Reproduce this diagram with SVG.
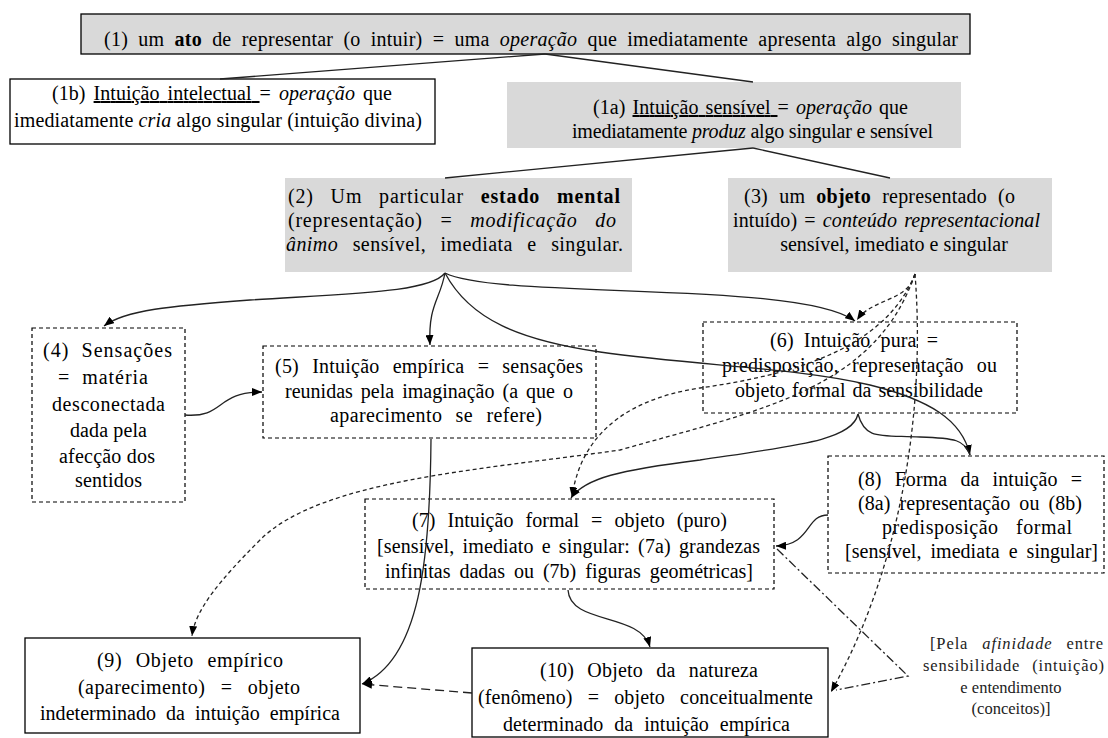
<svg xmlns="http://www.w3.org/2000/svg" width="1108" height="738" viewBox="0 0 1108 738">
<style>
.g{fill:#d9d9d9}
.bx{fill:#fff;stroke:#000;stroke-width:1.3}
.g1{fill:#d9d9d9;stroke:#000;stroke-width:1.3}
.dbx{fill:#fff;stroke:#000;stroke-width:1.2;stroke-dasharray:4 3}
.t{font-family:"Liberation Serif","Times New Roman",serif;font-size:20px;fill:#000}
.s{font-size:16.5px;fill:#222}
.i{font-style:italic}
.b{font-weight:bold}
.u{text-decoration:underline}
.c{fill:none;stroke:#222;stroke-width:1.3}
.cd{stroke-dasharray:4 3}
.cdd{stroke-dasharray:9 3 2 3}
.cl{stroke-dasharray:9 5}
</style>
<defs>
<marker id="ah" viewBox="0 0 10 8" refX="10" refY="4" markerWidth="10" markerHeight="8" markerUnits="userSpaceOnUse" orient="auto"><path d="M0,0 L10,4 L0,8 z" fill="#000"/></marker>
</defs>
<rect width="1108" height="738" fill="#fff"/>

<g id="n1">
<rect class="g1" x="81" y="14" width="889" height="40"/>
<text class="t" x="104" y="46" word-spacing="5" textLength="854" lengthAdjust="spacing">(1) um <tspan class="b">ato</tspan> de representar (o intuir) = uma <tspan class="i">operação</tspan> que imediatamente apresenta algo singular</text>
</g>
<g id="n1b">
<rect class="bx" x="10" y="79" width="425" height="65"/>
<text class="t" x="52" y="100" word-spacing="3" textLength="340" lengthAdjust="spacing">(1b) <tspan class="u">Intuição intelectual </tspan>= <tspan class="i">operação</tspan> que</text>
<text class="t" x="14" y="127" textLength="408" lengthAdjust="spacing">imediatamente <tspan class="i">cria</tspan> algo singular (intuição divina)</text>
</g>
<g id="n1a">
<rect class="g" x="507" y="82" width="454" height="66"/>
<text class="t" x="593" y="114" word-spacing="2" textLength="315" lengthAdjust="spacing">(1a) <tspan class="u">Intuição sensível </tspan>= <tspan class="i">operação</tspan> que</text>
<text class="t" x="572" y="138" font-size="19.5" textLength="361" lengthAdjust="spacing">imediatamente <tspan class="i">produz</tspan> algo singular e sensível</text>
</g>
<g id="n2">
<rect class="g" x="285" y="178" width="347" height="94"/>
<text class="t" x="288" y="203" word-spacing="11" textLength="332" lengthAdjust="spacing">(2) Um particular <tspan class="b">estado mental</tspan></text>
<text class="t" x="288" y="227" word-spacing="12" textLength="328" lengthAdjust="spacing">(representação) = <tspan class="i">modificação do</tspan></text>
<text class="t" x="286" y="251" word-spacing="9" textLength="337" lengthAdjust="spacing"><tspan class="i">ânimo</tspan> sensível, imediata e singular.</text>
</g>
<g id="n3">
<rect class="g" x="728" y="178" width="324" height="94"/>
<text class="t" x="744" y="203" word-spacing="6" textLength="271" lengthAdjust="spacing">(3) um <tspan class="b">objeto</tspan> representado (o</text>
<text class="t" x="733" y="227" word-spacing="2" textLength="307" lengthAdjust="spacing">intuído) = <tspan class="i">conteúdo representacional</tspan></text>
<text class="t" x="894" y="251" font-size="19" text-anchor="middle">sensível, imediato e singular</text>
</g>
<g id="n4">
<rect class="dbx" x="32" y="328" width="153" height="174"/>
<text class="t" x="43" y="357" font-size="21" word-spacing="6" textLength="129" lengthAdjust="spacing">(4) Sensações</text>
<text class="t" x="58" y="384" font-size="21" word-spacing="6" textLength="90" lengthAdjust="spacing">= matéria</text>
<text class="t" x="52" y="411" textLength="113" lengthAdjust="spacing">desconectada</text>
<text class="t" x="70" y="437" textLength="77" lengthAdjust="spacing">dada pela</text>
<text class="t" x="59" y="463" textLength="96" lengthAdjust="spacing">afecção dos</text>
<text class="t" x="75" y="487" textLength="67" lengthAdjust="spacing">sentidos</text>
</g>
<g id="n5">
<rect class="dbx" x="263" y="346" width="333" height="92"/>
<text class="t" x="275" y="373" word-spacing="8" textLength="308" lengthAdjust="spacing">(5) Intuição empírica = sensações</text>
<text class="t" x="285" y="398" word-spacing="3" textLength="288" lengthAdjust="spacing">reunidas pela imaginação (a que o</text>
<text class="t" x="330" y="422" word-spacing="8" textLength="212" lengthAdjust="spacing">aparecimento se refere)</text>
</g>
<g id="n6">
<rect class="dbx" x="703" y="322" width="314" height="91"/>
<text class="t" x="770" y="347" word-spacing="5" textLength="168" lengthAdjust="spacing">(6) Intuição pura =</text>
<text class="t" x="722" y="372" word-spacing="8" textLength="275" lengthAdjust="spacing">predisposição, representação ou</text>
<text class="t" x="735" y="397" word-spacing="2" textLength="248" lengthAdjust="spacing">objeto formal da sensibilidade</text>
</g>
<g id="n7">
<rect class="dbx" x="365" y="499" width="409" height="90"/>
<text class="t" x="412" y="527" word-spacing="7" textLength="315" lengthAdjust="spacing">(7) Intuição formal = objeto (puro)</text>
<text class="t" x="377" y="553" word-spacing="3" textLength="383" lengthAdjust="spacing">[sensível, imediato e singular: (7a) grandezas</text>
<text class="t" x="385" y="578" word-spacing="4" textLength="368" lengthAdjust="spacing">infinitas dadas ou (7b) figuras geométricas]</text>
</g>
<g id="n8">
<rect class="dbx" x="828" y="456" width="276" height="117"/>
<text class="t" x="858" y="486" word-spacing="8" textLength="224" lengthAdjust="spacing">(8) Forma da intuição =</text>
<text class="t" x="858" y="510" word-spacing="4" textLength="224" lengthAdjust="spacing">(8a) representação ou (8b)</text>
<text class="t" x="882" y="534" word-spacing="12" textLength="190" lengthAdjust="spacing">predisposição formal</text>
<text class="t" x="845" y="558" word-spacing="4" textLength="253" lengthAdjust="spacing">[sensível, imediata e singular]</text>
</g>
<g id="n9">
<rect class="bx" x="25" y="638" width="335" height="95"/>
<text class="t" x="97" y="667" word-spacing="8" textLength="186" lengthAdjust="spacing">(9) Objeto empírico</text>
<text class="t" x="78" y="694" word-spacing="10" textLength="222" lengthAdjust="spacing">(aparecimento) = objeto</text>
<text class="t" x="40" y="720" word-spacing="5" textLength="300" lengthAdjust="spacing">indeterminado da intuição empírica</text>
</g>
<g id="n10">
<rect class="bx" x="472" y="648" width="356" height="89"/>
<text class="t" x="540" y="677" word-spacing="8" textLength="218" lengthAdjust="spacing">(10) Objeto da natureza</text>
<text class="t" x="478" y="704" word-spacing="10" textLength="335" lengthAdjust="spacing">(fenômeno) = objeto conceitualmente</text>
<text class="t" x="503" y="731" word-spacing="6" textLength="287" lengthAdjust="spacing">determinado da intuição empírica</text>
</g>
<g id="note">
<text class="t s" x="930" y="649" word-spacing="9" textLength="173" lengthAdjust="spacing">[Pela <tspan class="i">afinidade</tspan> entre</text>
<text class="t s" x="923" y="671" word-spacing="7" textLength="181" lengthAdjust="spacing">sensibilidade (intuição)</text>
<text class="t s" x="1011" y="693" text-anchor="middle">e entendimento</text>
<text class="t s" x="1011" y="714" text-anchor="middle">(conceitos)]</text>
</g>

<g id="connectors">
<path class="c" d="M545,54 L220,79"/>
<path class="c" d="M545,54 L753,82"/>
<path class="c" d="M753,148 L445,178"/>
<path class="c" d="M753,148 L890,178"/>
<path class="c" d="M445,273 C430,292 360,293 250,300 C170,306 125,310 104,326" marker-end="url(#ah)"/>
<path class="c" d="M445,273 C440,300 428,305 430,345" marker-end="url(#ah)"/>
<path class="c" d="M445,273 C500,300 800,280 855,321" marker-end="url(#ah)"/>
<path class="c" d="M445,273 C470,320 520,340 600,352 C700,366 800,368 870,385 C930,400 962,420 970,455" marker-end="url(#ah)"/>
<path class="c" d="M858,414 C852,440 800,445 700,460 C620,470 585,478 571,498" marker-end="url(#ah)"/>
<path class="c" d="M858,414 C865,440 880,435 920,437 C955,438 965,440 970,455"/>
<path class="c cd" d="M915,274 C908,302 872,298 857,320" marker-end="url(#ah)"/>
<path class="c cd" d="M915,274 C885,350 790,375 700,388 C620,400 580,440 572,497" marker-end="url(#ah)"/>
<path class="c cd" d="M915,274 C875,390 760,410 620,450 C480,470 320,480 260,540 C220,580 195,610 192,636" marker-end="url(#ah)"/>
<path class="c cd" d="M915,274 C925,400 905,560 831,692" marker-end="url(#ah)"/>
<path class="c" d="M185,415 C225,418 215,392 262,392" marker-end="url(#ah)"/>
<path class="c" d="M431,439 C430,560 420,660 362,684" marker-end="url(#ah)"/>
<path class="c" d="M568,590 C570,625 640,612 650,647" marker-end="url(#ah)"/>
<path class="c" d="M828,515 C805,515 812,545 776,546" marker-end="url(#ah)"/>
<path class="c cdd" d="M777,549 L908,676 L836,690"/>
<path class="c cl" d="M472,693 L362,684" marker-end="url(#ah)"/>
</g>
</svg>
